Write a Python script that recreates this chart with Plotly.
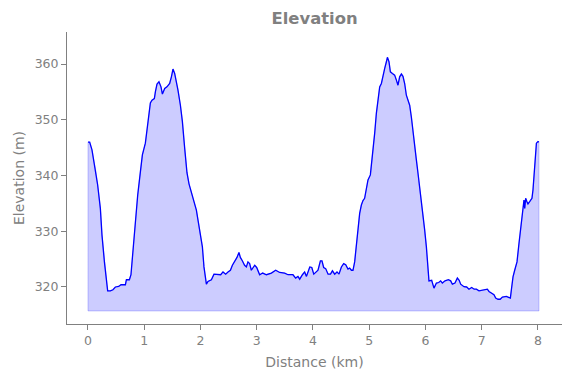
import plotly.graph_objects as go

# Distance along the route (km)
distance_km = [
    0.000, 0.030, 0.071, 0.119, 0.137, 0.172, 0.220, 0.249, 0.292, 0.327,
    0.350, 0.398, 0.444, 0.487, 0.546, 0.587, 0.665, 0.683, 0.736, 0.764,
    0.800, 0.843, 0.884, 0.932, 0.967, 1.020, 1.049, 1.079, 1.109, 1.138,
    1.180, 1.198, 1.227, 1.262, 1.298, 1.323, 1.364, 1.404, 1.452, 1.483,
    1.511, 1.541, 1.572, 1.600, 1.643, 1.678, 1.719, 1.760, 1.796, 1.838,
    1.884, 1.927, 1.956, 1.986, 2.034, 2.062, 2.092, 2.105, 2.133, 2.194,
    2.240, 2.311, 2.359, 2.400, 2.448, 2.489, 2.532, 2.567, 2.608, 2.649,
    2.684, 2.709, 2.744, 2.784, 2.816, 2.844, 2.874, 2.904, 2.964, 2.999,
    3.052, 3.106, 3.172, 3.260, 3.337, 3.408, 3.497, 3.556, 3.644, 3.692,
    3.733, 3.764, 3.812, 3.852, 3.884, 3.943, 3.979, 4.014, 4.089, 4.132,
    4.160, 4.190, 4.226, 4.268, 4.311, 4.346, 4.386, 4.427, 4.462, 4.505,
    4.546, 4.582, 4.622, 4.652, 4.683, 4.711, 4.741, 4.772, 4.800, 4.830,
    4.860, 4.889, 4.918, 4.949, 4.978, 5.020, 5.038, 5.067, 5.097, 5.127,
    5.156, 5.186, 5.216, 5.244, 5.275, 5.305, 5.323, 5.351, 5.376, 5.412,
    5.452, 5.483, 5.511, 5.541, 5.572, 5.600, 5.630, 5.660, 5.689, 5.719,
    5.749, 5.778, 5.808, 5.838, 5.867, 5.897, 5.927, 5.956, 5.986, 6.016,
    6.044, 6.062, 6.110, 6.151, 6.194, 6.235, 6.270, 6.300, 6.347, 6.407,
    6.448, 6.478, 6.524, 6.567, 6.599, 6.626, 6.684, 6.732, 6.773, 6.821,
    6.866, 6.905, 6.951, 6.999, 7.040, 7.100, 7.129, 7.172, 7.218, 7.248,
    7.289, 7.328, 7.367, 7.438, 7.470, 7.509, 7.527, 7.556, 7.586, 7.627,
    7.662, 7.705, 7.733, 7.751, 7.764, 7.781, 7.804, 7.822, 7.852, 7.893,
    7.911, 7.941, 7.972, 8.000, 8.018,
]

# Elevation (m)
elevation_m = [
    346.0, 346.0, 344.6, 341.9, 341.0, 338.3, 334.1, 329.3, 324.5, 321.0,
    319.3, 319.3, 319.5, 320.0, 320.1, 320.4, 320.4, 321.3, 321.3, 322.2,
    326.9, 332.3, 336.5, 340.7, 343.7, 345.8, 347.9, 350.9, 353.0, 353.5,
    353.8, 355.0, 356.4, 356.8, 355.9, 354.6, 355.6, 355.9, 356.5, 357.7,
    359.1, 358.3, 356.8, 355.3, 352.6, 349.7, 344.9, 340.5, 338.5, 337.1,
    335.6, 333.8, 332.0, 330.2, 327.2, 323.6, 320.7, 320.5, 321.0, 321.3,
    322.3, 322.2, 322.2, 322.7, 322.3, 322.7, 323.0, 323.9, 324.5, 325.3,
    326.2, 325.3, 324.7, 323.9, 323.6, 324.5, 324.2, 323.0, 323.9, 323.5,
    322.2, 322.5, 322.2, 322.5, 323.0, 322.6, 322.5, 322.2, 322.2, 321.6,
    321.9, 321.4, 322.2, 322.7, 321.9, 323.6, 323.5, 322.3, 323.0, 324.7,
    324.7, 323.5, 323.3, 322.3, 322.3, 322.9, 322.3, 322.7, 322.3, 323.6,
    324.2, 324.0, 323.2, 323.4, 323.0, 323.0, 324.5, 327.8, 330.8, 333.2,
    334.7, 335.5, 335.9, 337.4, 339.2, 340.1, 341.6, 344.6, 347.6, 351.2,
    354.1, 355.9, 356.5, 358.0, 359.2, 360.4, 361.2, 360.4, 358.6, 358.3,
    358.0, 357.1, 356.2, 357.7, 358.2, 357.8, 356.5, 354.4, 353.5, 352.6,
    350.5, 347.6, 345.2, 342.8, 340.4, 338.0, 335.6, 333.2, 330.2, 327.2,
    324.3, 321.1, 321.2, 319.8, 320.7, 320.8, 321.1, 320.7, 321.1, 321.3,
    321.1, 320.5, 320.7, 321.6, 321.2, 320.5, 320.05, 320.0, 319.6, 319.9,
    319.6, 319.6, 319.3, 319.4, 319.6, 319.6, 319.2, 318.9, 318.6, 318.0,
    317.8, 317.8, 318.2, 318.3, 318.2, 318.0, 319.5, 321.8, 323.0, 324.5,
    327.8, 331.4, 334.4, 335.6, 334.1, 335.9, 335.3, 334.9, 335.3, 335.9,
    337.4, 341.6, 345.8, 346.1, 346.0,
]

baseline_m = 315.7
x_ticks = [0, 1, 2, 3, 4, 5, 6, 7, 8]
y_ticks = [320, 330, 340, 350, 360]

GRAY = "#808080"
FONT = "DejaVu Sans"

fill_x = [distance_km[0]] + distance_km + [distance_km[-1], distance_km[0]]
fill_y = [baseline_m] + elevation_m + [baseline_m, baseline_m]

fig = go.Figure()
fig.add_trace(go.Scatter(
    x=fill_x, y=fill_y, mode="lines", fill="toself",
    fillcolor="rgba(0,0,255,0.2)", line=dict(color="rgba(0,0,255,0.2)", width=1),
    hoverinfo="skip", showlegend=False,
))
fig.add_trace(go.Scatter(
    x=distance_km, y=elevation_m, mode="lines",
    line=dict(color="#0000ff", width=1.3), showlegend=False,
))

axis_common = dict(
    showgrid=False, zeroline=False, showline=True, linecolor=GRAY, linewidth=1,
    ticks="outside", ticklen=5, tickwidth=1, tickcolor=GRAY, automargin=False,
    tickfont=dict(family=FONT, size=12.5, color=GRAY), mirror=False,
)

fig.update_layout(
    width=571, height=378,
    margin=dict(l=67, r=9, t=32, b=54),
    paper_bgcolor="white", plot_bgcolor="white",
    title=dict(text="<b>Elevation</b>", x=0.5509, xanchor="center", y=0.952, yanchor="middle",
               font=dict(family=FONT, size=16.4, color=GRAY)),
    xaxis=dict(range=[-0.373, 8.427], tickvals=x_ticks,
               title=dict(text="Distance (km)", font=dict(family=FONT, size=14, color=GRAY), standoff=10),
               **axis_common),
    yaxis=dict(range=[313.36, 365.74], tickvals=y_ticks,
               title=dict(text="Elevation (m)", font=dict(family=FONT, size=14, color=GRAY), standoff=6),
               **axis_common),
)

fig.write_html("out.html", config={"displayModeBar": False},
               post_script="document.body.style.margin='0px';")
